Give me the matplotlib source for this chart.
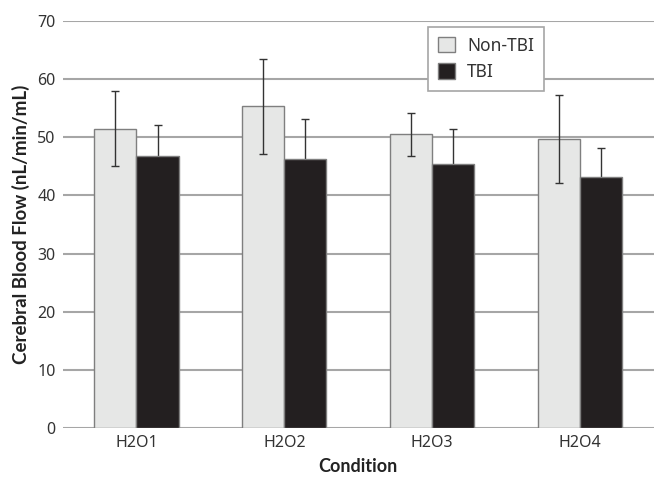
import matplotlib.pyplot as plt
import numpy as np

plt.rcParams['font.family'] = ['Noto Sans', 'DejaVu Sans']

conditions = ["H2O1", "H2O2", "H2O3", "H2O4"]
non_tbi = [51.5, 55.3, 50.5, 49.7]
non_tbi_err = [6.5, 8.2, 3.7, 7.5]
tbi = [46.8, 46.2, 45.4, 43.2]
tbi_err = [5.3, 7.0, 6.0, 5.0]

x = np.arange(len(conditions))
w = 0.285

fig = plt.figure(figsize=(6.54, 4.78), dpi=100)
ax = fig.add_axes([0.0956, 0.104, 0.9044, 0.8524])

ax.bar(x - w / 2, non_tbi, w, color="#E6E7E6", edgecolor="#7F7F7F", linewidth=1,
       label="Non-TBI", zorder=3)
ax.errorbar(x - w / 2, non_tbi, yerr=non_tbi_err, fmt="none", ecolor="#333333",
            elinewidth=1, capsize=3, capthick=1, zorder=4)
ax.bar(x + w / 2, tbi, w, color="#231F20", edgecolor="#7F7F7F", linewidth=1,
       label="TBI", zorder=3)
# TBI error bars sit behind the dark bars, so only the upper half shows
ax.errorbar(x + w / 2, tbi, yerr=tbi_err, fmt="none", ecolor="#333333",
            elinewidth=1, capsize=3, capthick=1, zorder=2)

ax.set_xlim(-0.5, 3.5)
ax.set_ylim(0, 70)
ax.set_yticks(range(0, 71, 10))
ax.set_xticks(x)
ax.set_xticklabels(conditions)
ax.yaxis.grid(True, color="#A6A6A6", linewidth=1.5, zorder=0)
ax.set_axisbelow(True)
for s in ax.spines.values():
    s.set_visible(False)
ax.tick_params(axis="both", length=0, labelsize=11.5, labelcolor="#333333", pad=5)

ax.set_xlabel("Condition", fontsize=13, fontweight="bold", family="Lato",
              color="#222222", labelpad=5)
ax.set_ylabel("Cerebral Blood Flow (nL/min/mL)", fontsize=13.5, fontweight="bold",
              family="Lato", color="#222222", labelpad=5)

leg = ax.legend(loc="upper left", bbox_to_anchor=(0.618, 0.985), fontsize=12.5,
                frameon=True, fancybox=False, edgecolor="#A6A6A6", framealpha=1,
                handlelength=1.0, handleheight=1.0, handletextpad=0.7,
                borderpad=0.55, labelspacing=0.5, borderaxespad=0)
leg.get_frame().set_linewidth(1.2)
for t in leg.get_texts():
    t.set_color("#333333")

fig.savefig("out.png", dpi=100)
